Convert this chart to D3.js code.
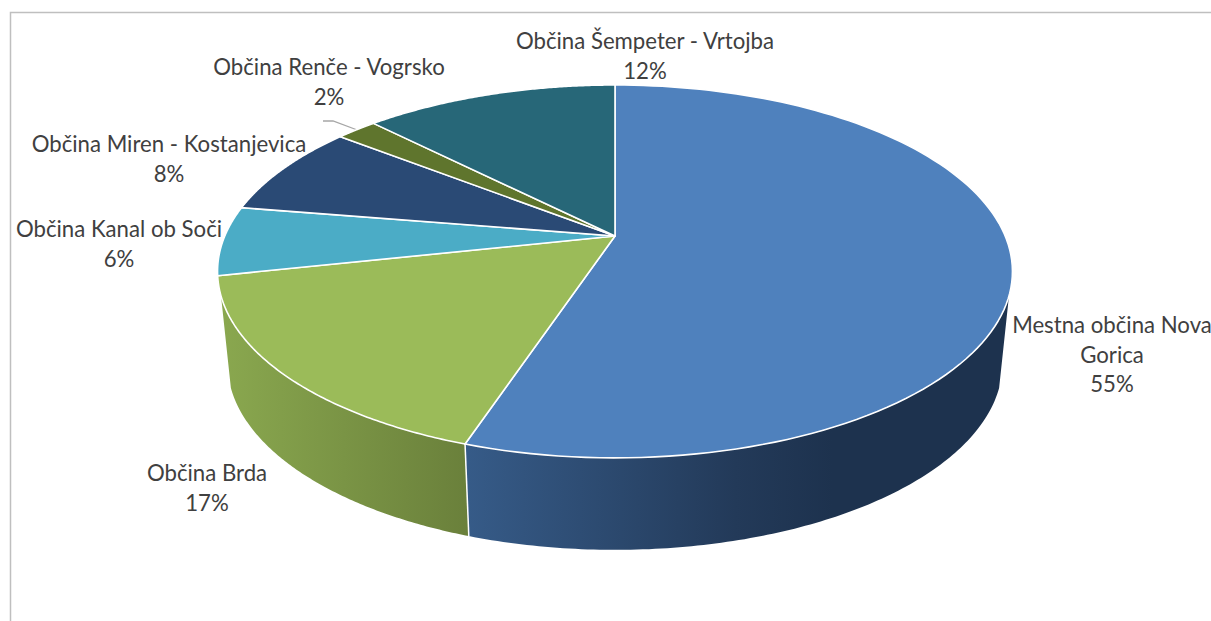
<!DOCTYPE html>
<html>
<head>
<meta charset="utf-8">
<script src="https://cdnjs.cloudflare.com/ajax/libs/d3/7.8.5/d3.min.js"></script>
<style>
  html, body { margin: 0; padding: 0; background: #fff; }
  svg { display: block; }
  text { font-family: Lato, "Open Sans", sans-serif; font-size: 22.2px; fill: #404040; }
</style>
</head>
<body>
<svg width="1211" height="621"></svg>
<script>
// values, the labels round them to whole percents
const categories = [
  "Mestna občina Nova Gorica",
  "Občina Brda",
  "Občina Kanal ob Soči",
  "Občina Miren - Kostanjevica",
  "Občina Renče - Vogrsko",
  "Občina Šempeter - Vrtojba"
];
const shares = [55.1, 16.5, 6.0, 8.0, 2.0, 12.4];

const topColors = ["#4f81bd", "#9bbb59", "#4bacc6", "#2a4a75", "#5f752d", "#276778"];

// label anchors: x centre, first baseline, line breaks
const labelPos = [
  { x: 1112, y: 333, lines: ["Mestna občina Nova", "Gorica"] },
  { x: 207, y: 481, lines: ["Občina Brda"] },
  { x: 119, y: 237, lines: ["Občina Kanal ob Soči"] },
  { x: 169, y: 152, lines: ["Občina Miren - Kostanjevica"] },
  { x: 329, y: 75, lines: ["Občina Renče - Vogrsko"] },
  { x: 645, y: 49, lines: ["Občina Šempeter - Vrtojba"] }
];
const lineHeight = 29.5;

const svg = d3.select("svg");

// pie tilted with perspective: the apex is not the middle of the ellipse
const apex = { x: 615, y: 236 };
const persp = -0.19, radX = 390.2, radY = 179.7;
const depth = 92, bottomScale = 0.975;

function rim(a) {
  const u = Math.sin(a), v = -Math.cos(a), w = 1 + persp * v;
  return [apex.x + radX * u / w, apex.y + radY * v / w];
}
function rimLow(a) {
  const p = rim(a);
  return [apex.x + (p[0] - apex.x) * bottomScale, p[1] + depth];
}
function arcPoints(fn, a0, a1) {
  return d3.range(0, 121).map(i => fn(a0 + (a1 - a0) * i / 120));
}

const pie = d3.pie().sort(null).value(d => d);
const slices = pie(shares);
const line = d3.line();
const rad = d => d * Math.PI / 180;

// gradients of the two visible side walls
const defs = svg.append("defs");
function wallGradient(id, x1, x2, stops) {
  const g = defs.append("linearGradient").attr("id", id)
    .attr("gradientUnits", "userSpaceOnUse")
    .attr("x1", x1).attr("x2", x2).attr("y1", 0).attr("y2", 0);
  stops.forEach(s => g.append("stop").attr("offset", s[0]).attr("stop-color", s[1]));
}
wallGradient("wallBlue", 466, 1005, [[0, "#365b88"], [0.5, "#233a59"], [0.68, "#1d324e"], [1, "#1d324e"]]);
wallGradient("wallGreen", 219, 468, [[0, "#8aa84f"], [1, "#6a803b"]]);

// chart frame, cut by the picture on the right and bottom
svg.append("path")
  .attr("d", "M10.5,621V12.5H1211")
  .attr("fill", "none")
  .attr("stroke", "#bfbfbf")
  .attr("stroke-width", 1.5);

// side walls
const walls = [
  { from: rad(108.3), to: slices[0].endAngle, fill: "url(#wallBlue)" },
  { from: slices[1].startAngle, to: rad(251.7), fill: "url(#wallGreen)" }
];
svg.selectAll("path.wall")
  .data(walls)
  .enter().append("path")
  .attr("class", "wall")
  .attr("d", d => line(arcPoints(rim, d.from, d.to).concat(arcPoints(rimLow, d.from, d.to).reverse())) + "Z")
  .attr("fill", d => d.fill);

svg.append("path")
  .attr("d", line([rim(slices[0].endAngle), rimLow(slices[0].endAngle)]))
  .attr("stroke", "#fff")
  .attr("stroke-width", 1.5);

// leader line for the small slice
const small = slices[4];
svg.append("polyline")
  .attr("points", [[323, 121], [333, 121], rim((small.startAngle + small.endAngle) / 2)].join(" "))
  .attr("fill", "none")
  .attr("stroke", "#a6a6a6")
  .attr("stroke-width", 1.3);

// top faces
svg.selectAll("path.slice")
  .data(slices)
  .enter().append("path")
  .attr("class", "slice")
  .attr("d", d => line([[apex.x, apex.y]].concat(arcPoints(rim, d.startAngle, d.endAngle))) + "Z")
  .attr("fill", (d, i) => topColors[i])
  .attr("stroke", "#fff")
  .attr("stroke-width", 1.6)
  .attr("stroke-linejoin", "round");

// labels
const fmt = d3.format(".0f");
const labels = svg.selectAll("text.label")
  .data(slices)
  .enter().append("text")
  .attr("class", "label")
  .attr("text-anchor", "middle");

labels.each(function (d, i) {
  const pos = labelPos[i];
  const rows = pos.lines.concat(fmt(d.value) + "%");
  d3.select(this).selectAll("tspan")
    .data(rows)
    .enter().append("tspan")
    .attr("x", pos.x)
    .attr("y", (r, j) => pos.y + j * lineHeight)
    .text(r => r);
});
</script>
</body>
</html>
